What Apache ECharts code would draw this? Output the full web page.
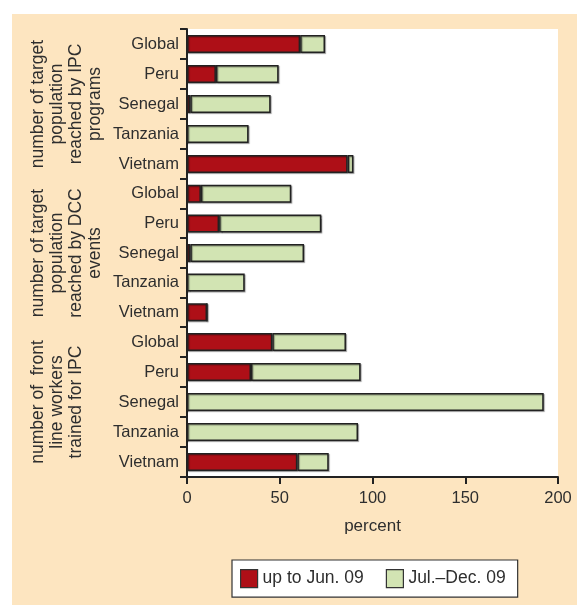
<!DOCTYPE html>
<html>
<head>
<meta charset="utf-8">
<script src="https://cdn.jsdelivr.net/npm/echarts@6/dist/echarts.min.js"></script>
<style>
html,body{margin:0;padding:0;background:#fff;}
#chart{width:577px;height:605px;}
</style>
</head>
<body>
<div id="chart"></div>
<script>
// ---- data ----
const categories = ['Global', 'Peru', 'Senegal', 'Tanzania', 'Vietnam'];
const groupTitles = [
  'number of target\npopulation\nreached by IPC\nprograms',
  'number of target\npopulation\nreached by DCC\nevents',
  'number of  front\nline workers\ntrained for IPC'
];
const seriesNames = ['up to Jun. 09', 'Jul.\u2013Dec. 09'];
// percent, up to Jun. 09
const ipcReachUpToJun = [61, 15.6, 1.8, 0, 86.6];
const dccReachUpToJun = [7.5, 17.3, 1.8, 0, 10.8];
const workersUpToJun  = [46, 34.5, 0, 0, 59.5];
// percent, Jul.–Dec. 09
const ipcReachJulDec = [13.4, 33.8, 43.3, 33.2, 3.1];
const dccReachJulDec = [48.7, 55.1, 61.3, 31.1, 0];
const workersJulDec  = [39.7, 59.1, 192.3, 92.2, 16.9];
const xTicks = [0, 50, 100, 150, 200];

const upToJun = [ipcReachUpToJun, dccReachUpToJun, workersUpToJun];
const julDec = [ipcReachJulDec, dccReachJulDec, workersJulDec];

// ---- styles ----
const FONT = "'Liberation Sans', Arial, Helvetica, sans-serif";
const TXT = '#2e2e2e';
const RED = '#ae0f17';
const GREEN = '#d2e4b3';
const BEIGE = '#fde5c0';
const gridTops = [29, 179, 327];
const gridHeights = [150, 148, 150];
const groupCenters = [104, 253, 402];

const grids = [], xAxes = [], yAxes = [], series = [], graphics = [];

graphics.push({
  type: 'rect', z: -10, silent: true,
  shape: {x: 12, y: 14, width: 565, height: 591},
  style: {fill: BEIGE}
});

for (let g = 0; g < 3; g++) {
  grids.push({
    left: 187, width: 371, top: gridTops[g], height: gridHeights[g],
    show: true, backgroundColor: '#ffffff', borderWidth: 0
  });
  const isLast = g === 2;
  xAxes.push({
    gridIndex: g, type: 'value',
    min: xTicks[0], max: xTicks[xTicks.length - 1], interval: xTicks[1] - xTicks[0],
    show: isLast,
    splitLine: {show: false},
    axisLine: {show: true, lineStyle: {color: '#222', width: 2}},
    axisTick: {show: true, length: 7, inside: false, lineStyle: {color: '#222', width: 2}},
    axisLabel: {color: TXT, fontSize: 16.5, fontFamily: FONT, margin: 13},
    name: isLast ? 'percent' : '',
    nameLocation: 'middle', nameGap: 41,
    nameTextStyle: {color: TXT, fontSize: 17, fontFamily: FONT}
  });
  yAxes.push({
    gridIndex: g, type: 'category', data: categories, inverse: true,
    axisLine: {show: true, lineStyle: {color: '#222', width: 2}},
    axisTick: {show: true, length: 7, lineStyle: {color: '#222', width: 2}},
    axisLabel: {color: TXT, fontSize: 16.5, fontFamily: FONT, margin: 8},
    splitLine: {show: false}
  });
  const common = {
    type: 'bar', xAxisIndex: g, yAxisIndex: g, stack: 'g' + g,
    barWidth: 18
  };
  series.push(Object.assign({}, common, {
    name: seriesNames[0], data: upToJun[g],
    itemStyle: {color: RED, borderColor: '#222', borderWidth: 1.5,
      shadowColor: 'rgba(0,0,0,0.35)', shadowOffsetX: 1, shadowOffsetY: 1, shadowBlur: 1}
  }));
  series.push(Object.assign({}, common, {
    name: seriesNames[1], data: julDec[g],
    itemStyle: {color: GREEN, borderColor: '#222', borderWidth: 1.5,
      shadowColor: 'rgba(0,0,0,0.35)', shadowOffsetX: 1, shadowOffsetY: 1, shadowBlur: 1}
  }));
  graphics.push({
    type: 'text', x: 29, y: groupCenters[g], rotation: Math.PI / 2,
    style: {
      text: groupTitles[g], fill: TXT, font: '17.5px ' + FONT,
      align: 'center', verticalAlign: 'top', lineHeight: 19
    }
  });
}

const chart = echarts.init(document.getElementById('chart'), null, {renderer: 'canvas'});
chart.setOption({
  animation: false,
  backgroundColor: '#ffffff',
  grid: grids,
  xAxis: xAxes,
  yAxis: yAxes,
  series: series,
  graphic: graphics,
  legend: {
    data: seriesNames,
    left: 232, top: 560,
    padding: [9, 12, 9, 8],
    itemGap: 22, itemWidth: 17, itemHeight: 18,
    icon: 'rect',
    backgroundColor: '#ffffff', borderColor: '#333', borderWidth: 1.2,
    textStyle: {color: TXT, fontSize: 17.5, fontFamily: FONT},
    itemStyle: {borderColor: '#333', borderWidth: 1.2, shadowBlur: 0, shadowOffsetX: 0, shadowOffsetY: 0}
  }
});
</script>
</body>
</html>
